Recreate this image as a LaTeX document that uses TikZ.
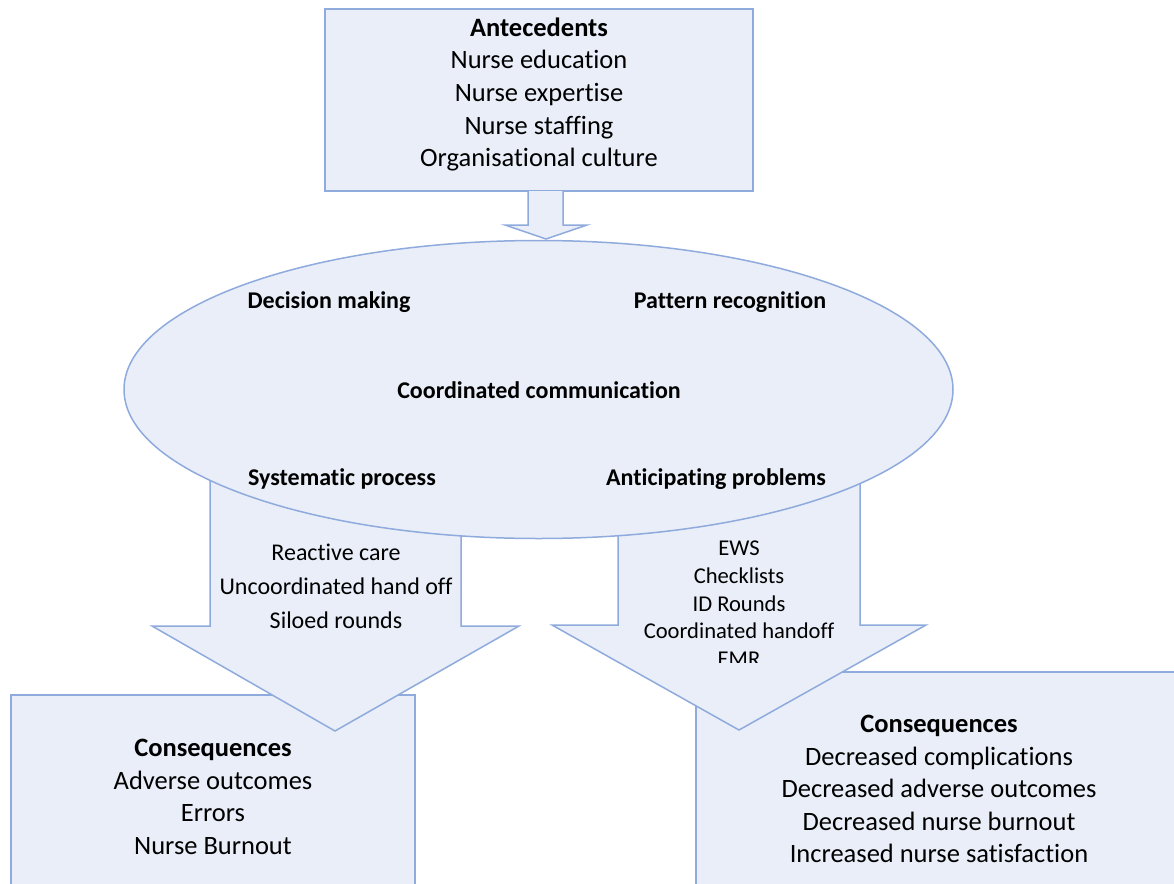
\documentclass[tikz,border=0pt]{standalone}
\usepackage{fontspec}
\setmainfont{Carlito}[Ligatures={NoCommon}]
\begin{document}
\begin{tikzpicture}[x=1pt,y=-1pt,
  shapefill/.style={fill=boxfill,draw=boxline,line width=1.5pt,line join=miter},
  bigtext/.style={align=center,inner sep=0pt,font=\fontsize{26.5}{32.6}\selectfont},
  ovaltext/.style={inner sep=0pt,font=\fontsize{24}{29}\selectfont\bfseries},
  leftarrowtext/.style={align=center,inner sep=0pt,font=\fontsize{24}{34}\selectfont},
  rightarrowtext/.style={align=center,inner sep=0pt,font=\fontsize{22.6}{27.6}\selectfont}]
\definecolor{boxfill}{HTML}{E9EEF8}
\definecolor{boxline}{HTML}{8FAADC}
\useasboundingbox (0,0) rectangle (1174,883);

% consequence boxes (run off the lower and right edges of the page)
\draw[shapefill] (11,695) rectangle (415,930);
\draw[shapefill] (696,672) rectangle (1220,930);

% downward block arrows
\draw[shapefill] (210,440) -- (210,626) -- (152,626) -- (335,731) -- (519,626) -- (461,626) -- (461,440) -- cycle;
\draw[shapefill] (618,440) -- (618,625) -- (552,625) -- (739,730) -- (926,625) -- (860,625) -- (860,440) -- cycle;

% central ellipse
\draw[shapefill] (538.5,389.5) ellipse [x radius=414.5, y radius=149];

% antecedents box and the arrow into the ellipse
\draw[shapefill] (325,9) rectangle (753,191);
\draw[shapefill] (528,191) -- (528,225) -- (505,225) -- (546,239) -- (587,225) -- (563,225) -- (563,191);

\node[bigtext] (ante) at (539,94.5) {\textbf{Antecedents}\\Nurse education\\Nurse expertise\\Nurse staffing\\Organisational culture};

\node[ovaltext] (dm) at (329,302) {Decision making};
\node[ovaltext] (pr) at (730,302) {Pattern recognition};
\node[ovaltext] (cc) at (539,390) {Coordinated communication};
\node[ovaltext] (sp) at (342,479) {Systematic process};
\node[ovaltext] (ap) at (716,479) {Anticipating problems};

\node[leftarrowtext] (react) at (336,586) {Reactive care\\Uncoordinated hand off\\Siloed rounds};

% list inside the right arrow, cut off at the bottom of its text area
\begin{scope}
  \clip (618,536) rectangle (860,662);
  \node[rightarrowtext,anchor=north] (proact) at (739,541) {EWS\\Checklists\\ID Rounds\\Coordinated handoff\\EMR};
\end{scope}

\node[bigtext] (consl) at (213,797) {\textbf{Consequences}\\Adverse outcomes\\Errors\\Nurse Burnout};
\node[bigtext] (consr) at (939,789) {\textbf{Consequences}\\Decreased complications\\Decreased adverse outcomes\\Decreased nurse burnout\\Increased nurse satisfaction};
\end{tikzpicture}
\end{document}
